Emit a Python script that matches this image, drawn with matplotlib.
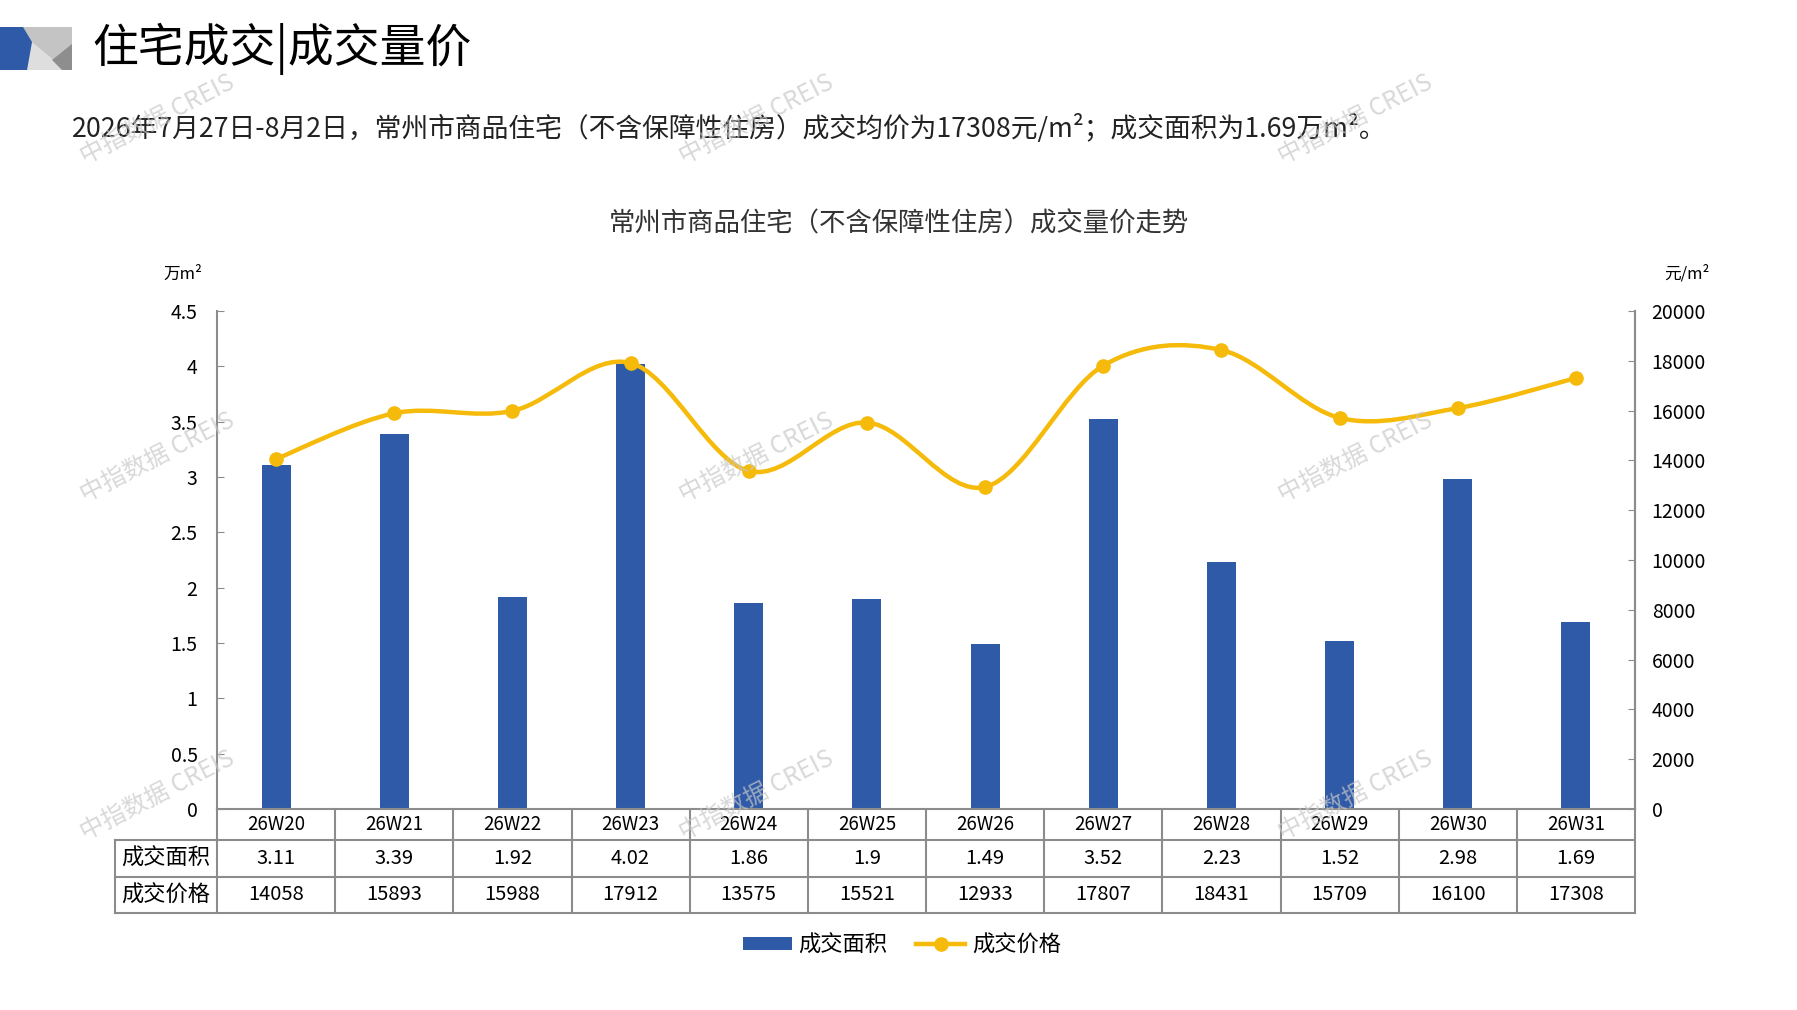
import matplotlib
matplotlib.use('Agg')
import matplotlib.pyplot as plt
import matplotlib.transforms as mtransforms
from matplotlib.path import Path
from matplotlib.patches import PathPatch, Patch, Polygon
from matplotlib.lines import Line2D

plt.rcParams['font.family'] = ['Noto Sans CJK SC', 'DejaVu Sans']

# 数据
weeks = ['26W20', '26W21', '26W22', '26W23', '26W24', '26W25',
         '26W26', '26W27', '26W28', '26W29', '26W30', '26W31']
area = [3.11, 3.39, 1.92, 4.02, 1.86, 1.9, 1.49, 3.52, 2.23, 1.52, 2.98, 1.69]
price = [14058, 15893, 15988, 17912, 13575, 15521, 12933, 17807, 18431, 15709, 16100, 17308]
area_labels = ['3.11', '3.39', '1.92', '4.02', '1.86', '1.9', '1.49', '3.52', '2.23', '1.52', '2.98', '1.69']
row_names = ['成交面积', '成交价格']
left_ticks = [0, 0.5, 1, 1.5, 2, 2.5, 3, 3.5, 4, 4.5]
left_tick_labels = ['0', '0.5', '1', '1.5', '2', '2.5', '3', '3.5', '4', '4.5']
right_ticks = list(range(0, 20001, 2000))

BLUE = '#2F5AA7'
GOLD = '#F5BA0A'
GRID = '#8C8C8C'

W, H = 1797, 1010
fig = plt.figure(figsize=(W / 100, H / 100), dpi=100)

# 左上角图标
logo = fig.add_axes([0, 0, 1, 1], zorder=-5)
logo.set_xlim(0, W)
logo.set_ylim(H, 0)
logo.axis('off')
logo.add_patch(Polygon([(23, 27), (72, 27), (72, 70), (23, 70)], color='#C4C4C4', lw=0))
logo.add_patch(Polygon([(32, 42), (27, 70), (66, 70)], color='#DEDEDE', lw=0))
logo.add_patch(Polygon([(72, 44), (52, 60), (62, 70), (72, 70)], color='#8E8E8E', lw=0))
logo.add_patch(Polygon([(0, 27), (23, 27), (32, 42), (27, 70), (0, 70)], color=BLUE, lw=0))

fig.text(92 / W, 1 - 49 / H, '住宅成交|成交量价', fontsize=33, va='center', ha='left')
fig.text(72 / W, 1 - 129 / H,
         '2026年7月27日-8月2日，常州市商品住宅（不含保障性住房）成交均价为17308元/m²；成交面积为1.69万m²。',
         fontsize=19.3, va='center', ha='left', color='#222222')
fig.text(899 / W, 1 - 224 / H, '常州市商品住宅（不含保障性住房）成交量价走势',
         fontsize=19, va='center', ha='center', color='#333333')

# 主图
x0, x1, ytop, ybot = 217, 1635, 311, 809
ax = fig.add_axes([x0 / W, 1 - ybot / H, (x1 - x0) / W, (ybot - ytop) / H])
n = len(weeks)
xs = list(range(n))
ax.bar(xs, area, width=0.245, color=BLUE, zorder=2)
ax.set_xlim(-0.5, n - 0.5)
ax.set_ylim(0, 4.5)
ax.set_yticks(left_ticks)
ax.set_yticklabels(left_tick_labels)
ax.set_xticks([])
ax.tick_params(axis='y', direction='in', length=5, color=GRID, labelsize=14, pad=14)
for s in ['top', 'bottom']:
    ax.spines[s].set_visible(False)
for s in ['left', 'right']:
    ax.spines[s].set_color(GRID)
    ax.spines[s].set_linewidth(1.5)

ax2 = ax.twinx()
ax2.set_ylim(0, 20000)
ax2.set_yticks(right_ticks)
ax2.tick_params(axis='y', direction='in', length=5, color=GRID, labelsize=14, pad=12)
for s in ['top', 'bottom', 'left']:
    ax2.spines[s].set_visible(False)
ax2.spines['right'].set_color(GRID)
ax2.spines['right'].set_linewidth(1.5)

# 平滑曲线（贝塞尔）
verts = [(xs[0], price[0])]
codes = [Path.MOVETO]
for i in range(n - 1):
    p0 = (xs[max(i - 1, 0)], price[max(i - 1, 0)])
    p1 = (xs[i], price[i])
    p2 = (xs[i + 1], price[i + 1])
    p3 = (xs[min(i + 2, n - 1)], price[min(i + 2, n - 1)])
    c1 = (p1[0] + (p2[0] - p0[0]) / 6, p1[1] + (p2[1] - p0[1]) / 6)
    c2 = (p2[0] - (p3[0] - p1[0]) / 6, p2[1] - (p3[1] - p1[1]) / 6)
    verts += [c1, c2, p2]
    codes += [Path.CURVE4] * 3
ax2.add_patch(PathPatch(Path(verts, codes), fill=False, edgecolor=GOLD, lw=3.2,
                        capstyle='round', joinstyle='round', zorder=3))
ax2.plot(xs, price, 'o', color=GOLD, markersize=9.5, zorder=4)

fig.text(183 / W, 1 - 274 / H, '万m²', fontsize=12, ha='center', va='center')
fig.text(1687 / W, 1 - 274 / H, '元/m²', fontsize=12, ha='center', va='center')

# 数据表
tr = mtransforms.blended_transform_factory(ax.transData, ax.transAxes)
hpx = ybot - ytop
r1, r2, r3 = -31 / hpx, -68 / hpx, -104 / hpx
xl = -0.5 - (x0 - 115) / ((x1 - x0) / n)
lk = dict(color=GRID, lw=1.5, transform=tr, clip_on=False, zorder=5)
ax.plot([-0.5, n - 0.5], [0, 0], **lk)
for yy in [r1, r2, r3]:
    ax.plot([xl, n - 0.5], [yy, yy], **lk)
ax.plot([xl, xl], [r1, r3], **lk)
for k in range(n + 1):
    ax.plot([k - 0.5, k - 0.5], [0, r3], **lk)
for i in range(n):
    ax.text(xs[i], r1 / 2, weeks[i], transform=tr, ha='center', va='center', fontsize=13.5)
    ax.text(xs[i], (r1 + r2) / 2, area_labels[i], transform=tr, ha='center', va='center', fontsize=14.5)
    ax.text(xs[i], (r2 + r3) / 2, str(price[i]), transform=tr, ha='center', va='center', fontsize=14.5)
ax.text((xl - 0.5) / 2, (r1 + r2) / 2, row_names[0], transform=tr, ha='center', va='center', fontsize=16)
ax.text((xl - 0.5) / 2, (r2 + r3) / 2, row_names[1], transform=tr, ha='center', va='center', fontsize=16)

# 图例
handles = [Patch(facecolor=BLUE, edgecolor='none'),
           Line2D([0], [0], color=GOLD, lw=3.2, marker='o', markersize=9.5)]
fig.legend(handles, row_names, loc='center', bbox_to_anchor=(902 / W, 1 - 945 / H), ncol=2,
           frameon=False, fontsize=16, handlelength=2.2, handleheight=0.55, handletextpad=0.3,
           columnspacing=1.3)

# 水印
for wy in [120, 458, 796]:
    for wx in [157, 756, 1355]:
        fig.text(wx / W, 1 - wy / H, '中指数据 CREIS', fontsize=17.5, color='#C8C8C8', alpha=0.7,
                 rotation=27, ha='center', va='center', rotation_mode='anchor', zorder=10)

fig.savefig('out.png', dpi=100)
